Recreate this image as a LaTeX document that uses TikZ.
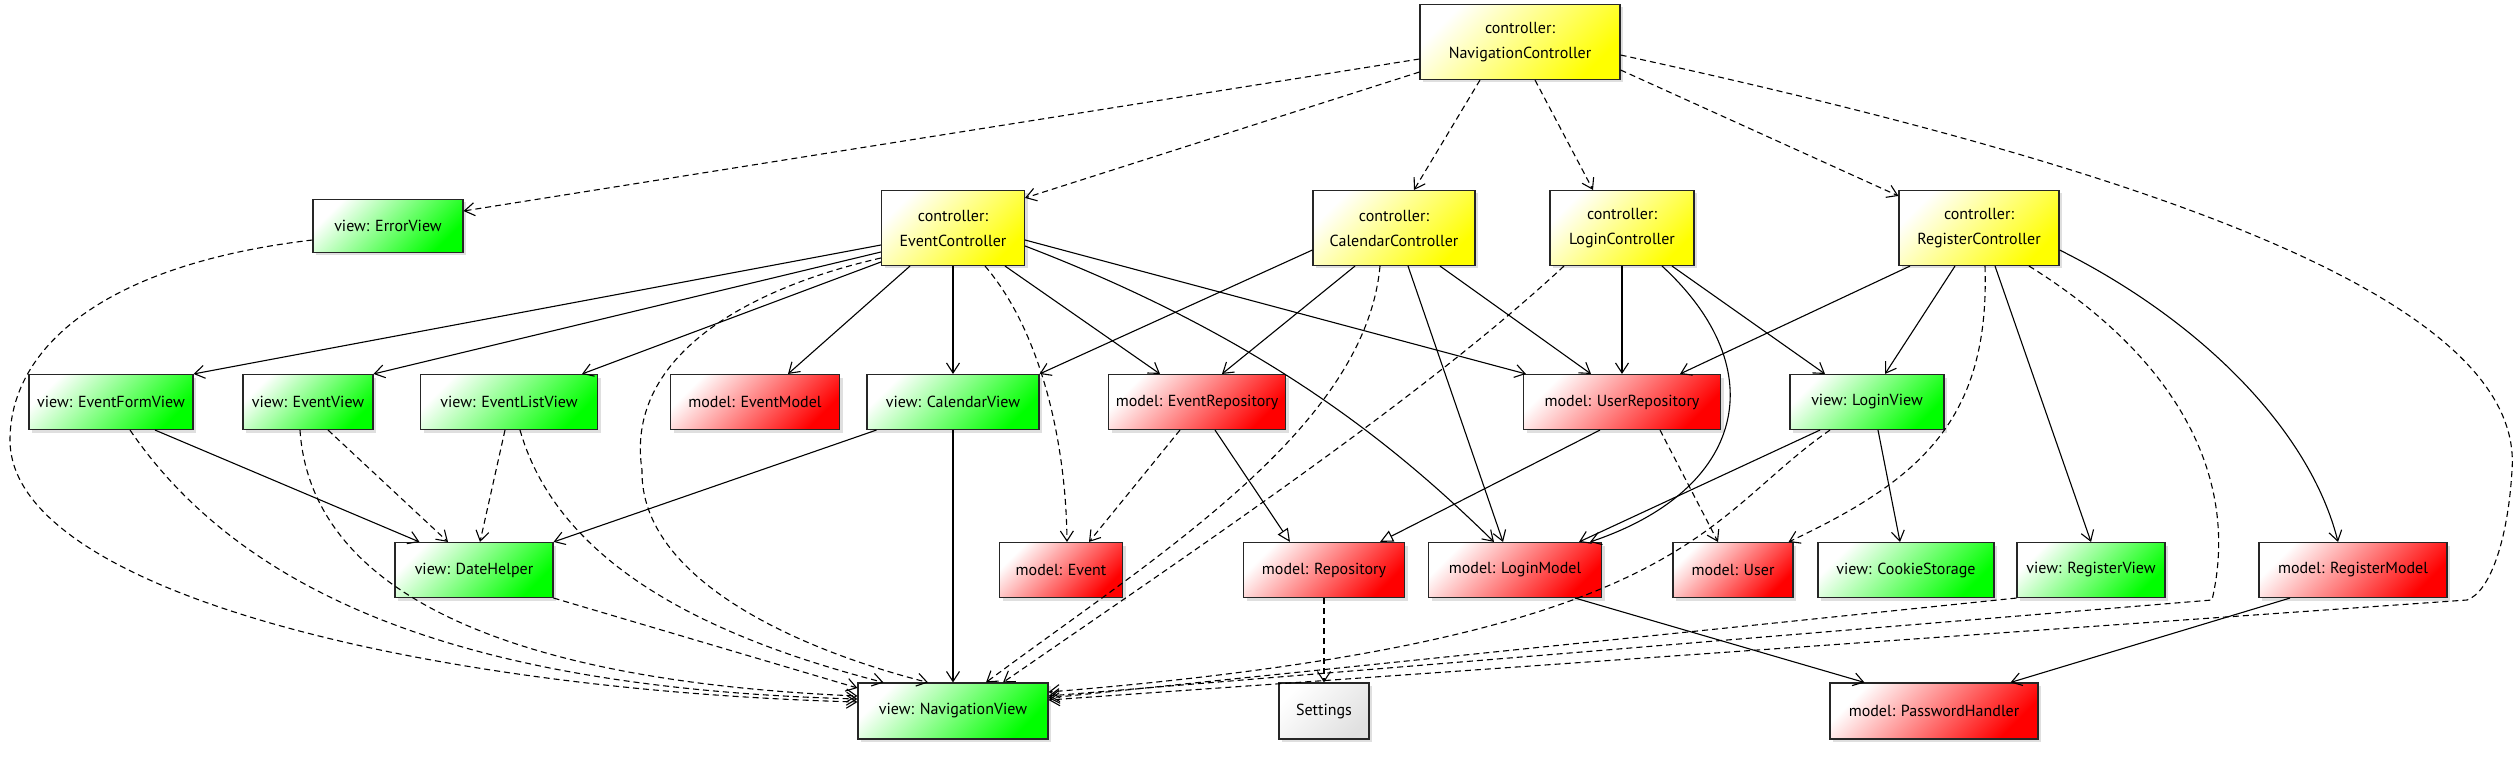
\documentclass[tikz,border=0pt]{standalone}
\usepackage{fontspec}
\setmainfont{PT Sans}
\usetikzlibrary{calc}
\usetikzlibrary{positioning}
\usetikzlibrary{arrows.meta, shadows}
\tikzstyle{uses} = [line width=1.1pt, dash pattern=on 6pt off 4pt, -{Straight Barb[length=10pt,width=13pt]}]
\tikzstyle{calls} = [line width=1.1pt, -{Straight Barb[length=10pt,width=13pt]}]
\tikzstyle{extends} = [line width=1.1pt, -{Triangle[open,length=13pt,width=12pt,fill=white]}]

\begin{document}
\begin{tikzpicture}[x=1pt, y=-1pt,
    umlbox/.style={rectangle, draw=black!85, line width=1.1pt, minimum height=55pt, inner sep=2pt,
        font=\fontsize{16}{25}\selectfont,
        drop shadow={opacity=0.25, shadow xshift=3pt, shadow yshift=-3pt}},
    ctrlnode/.style={umlbox, minimum height=75pt, align=center, left color=white, right color=yellow, shading angle=45},
    viewnode/.style={umlbox, left color=white, right color=green, shading angle=45},
    modelnode/.style={umlbox, left color=white, right color=red, shading angle=45},
    confnode/.style={umlbox, left color=white, right color=black!12, shading angle=45}
]
    \useasboundingbox (0,0) rectangle (2520,770);

    % controllers
    \node[ctrlnode, minimum width=200pt] (navctrl) at (1520,42) {controller:\\NavigationController};
    \node[viewnode, minimum width=150pt, minimum height=53pt] (errorview) at (388,226) {view: ErrorView};
    \node[ctrlnode, minimum width=143pt] (evctrl) at (953,228) {controller:\\EventController};
    \node[ctrlnode, minimum width=162pt] (calctrl) at (1394,228) {controller:\\CalendarController};
    \node[ctrlnode, minimum width=144pt] (loginctrl) at (1622,228) {controller:\\LoginController};
    \node[ctrlnode, minimum width=160pt] (regctrl) at (1979,228) {controller:\\RegisterController};

    \node[viewnode, minimum width=164pt] (efview) at (111,402) {view: EventFormView};
    \node[viewnode, minimum width=130pt] (eview) at (308,402) {view: EventView};
    \node[viewnode, minimum width=177pt] (elview) at (509,402) {view: EventListView};
    \node[modelnode, minimum width=169pt] (evmodel) at (755,402) {model: EventModel};
    \node[viewnode, minimum width=172pt] (calview) at (953,402) {view: CalendarView};
    \node[modelnode, minimum width=177pt] (evrepo) at (1197,402) {model: EventRepository};
    \node[modelnode, minimum width=197pt] (userrepo) at (1622,402) {model: UserRepository};
    \node[viewnode, minimum width=154pt] (loginview) at (1867,402) {view: LoginView};

    \node[viewnode, minimum width=158pt] (datehelper) at (474,570) {view: DateHelper};
    \node[modelnode, minimum width=123pt] (event) at (1061,570) {model: Event};
    \node[modelnode, minimum width=161pt] (repo) at (1324,570) {model: Repository};
    \node[modelnode, minimum width=173pt] (loginmodel) at (1515,570) {model: LoginModel};
    \node[modelnode, minimum width=120pt] (user) at (1733,570) {model: User};
    \node[viewnode, minimum width=176pt] (cookie) at (1906,570) {view: CookieStorage};
    \node[viewnode, minimum width=148pt] (regview) at (2091,570) {view: RegisterView};
    \node[modelnode, minimum width=188pt] (regmodel) at (2353,570) {model: RegisterModel};

    \node[viewnode, minimum width=190pt, minimum height=56pt] (navview) at (953,711) {view: NavigationView};
    \node[confnode, minimum width=90pt, minimum height=56pt] (settings) at (1324,711) {Settings};
    \node[modelnode, minimum width=208pt, minimum height=56pt] (pwhandler) at (1934,711) {model: PasswordHandler};

    % NavigationController
    \draw[uses] ([yshift=-17pt]navctrl.west) -- ([yshift=15pt]errorview.east);
    \draw[uses] ([yshift=-30pt]navctrl.west) -- ([yshift=-8pt]evctrl.north east);
    \draw[uses] ([xshift=-40pt]navctrl.south) -- ([xshift=20pt]calctrl.north);
    \draw[uses] ([xshift=15pt]navctrl.south) -- ([xshift=-29pt]loginctrl.north);
    \draw[uses] ([yshift=-28pt]navctrl.east) -- ([yshift=-6pt]regctrl.north west);
    \draw[uses] ([yshift=-13pt]navctrl.east) .. controls (2150,170) and (2525,300) .. (2512,470)
        .. controls (2508,540) and (2490,592) .. (2467,600) -- ([yshift=11pt]navview.east);

    % EventController
    \draw[calls] ([yshift=-17pt]evctrl.west) -- (efview.north east);
    \draw[calls] ([yshift=-24pt]evctrl.west) -- (eview.north east);
    \draw[calls] ([yshift=-34pt]evctrl.west) -- ([xshift=-16pt]elview.north east);
    \draw[calls] ([xshift=-43pt]evctrl.south) -- ([xshift=33pt]evmodel.north);
    \draw[calls] (evctrl) -- (calview);
    \draw[calls] ([xshift=52pt]evctrl.south) -- ([xshift=-37pt]evrepo.north);
    \draw[calls] ([yshift=-18pt]evctrl.east) .. controls (1270,340) and (1400,450) .. ([xshift=-21pt]loginmodel.north);
    \draw[calls] ([yshift=-12pt]evctrl.east) -- ([xshift=3pt]userrepo.north west);
    \draw[uses] ([xshift=32pt]evctrl.south) .. controls (1040,330) and (1066,440) .. ([xshift=6pt]event.north);
    \draw[uses] ([yshift=-30pt]evctrl.west) .. controls (740,290) and (625,360) .. (642,470)
        .. controls (640,580) and (800,650) .. ([xshift=-25pt]navview.north);

    % CalendarController
    \draw[calls] ([yshift=-22pt]calctrl.west) -- (calview.north east);
    \draw[calls] ([xshift=-39pt]calctrl.south) -- ([xshift=25pt]evrepo.north);
    \draw[calls] ([xshift=46pt]calctrl.south) -- ([xshift=-31pt]userrepo.north);
    \draw[calls] ([xshift=14pt]calctrl.south) -- ([xshift=-12pt]loginmodel.north);
    \draw[uses] ([xshift=-14pt]calctrl.south) .. controls (1365,430) and (1150,560) .. ([xshift=33pt]navview.north);

    % LoginController
    \draw[uses] ([xshift=-58pt]loginctrl.south) .. controls (1420,400) and (1180,560) .. ([xshift=50pt]navview.north);
    \draw[calls] (loginctrl) -- (userrepo);
    \draw[calls] ([xshift=50pt]loginctrl.south) -- ([xshift=-42pt]loginview.north);
    \draw[calls] ([xshift=40pt]loginctrl.south) .. controls (1775,370) and (1745,490) .. ([xshift=75pt]loginmodel.north);

    % RegisterController
    \draw[calls] ([xshift=-69pt]regctrl.south) -- ([xshift=58pt]userrepo.north);
    \draw[calls] ([xshift=-24pt]regctrl.south) -- ([xshift=18pt]loginview.north);
    \draw[uses] ([xshift=6pt]regctrl.south) .. controls (1990,420) and (1920,480) .. ([xshift=-5pt]user.north east);
    \draw[calls] ([xshift=16pt]regctrl.south) -- (regview.north);
    \draw[calls] ([yshift=-22pt]regctrl.east) .. controls (2200,320) and (2310,430) .. ([xshift=-15pt]regmodel.north);
    \draw[uses] ([xshift=50pt]regctrl.south) .. controls (2180,360) and (2240,480) .. (2212,600) -- ([yshift=15pt]navview.east);

    % views
    \draw[uses] ([yshift=-14pt]errorview.west) .. controls (100,265) and (10,350) .. (10,440)
        .. controls (10,590) and (420,690) .. ([yshift=9pt]navview.west);
    \draw[calls] ([xshift=44pt]efview.south) -- ([xshift=25pt]datehelper.north west);
    \draw[uses] ([xshift=19pt]efview.south) .. controls (260,620) and (520,690) .. ([yshift=12pt]navview.west);
    \draw[uses] ([xshift=20pt]eview.south) -- ([xshift=-26pt]datehelper.north);
    \draw[uses] ([xshift=-8pt]eview.south) .. controls (310,580) and (480,680) .. ([yshift=15pt]navview.west);
    \draw[uses] ([xshift=-4pt]elview.south) -- ([xshift=6pt]datehelper.north);
    \draw[uses] ([xshift=11pt]elview.south) .. controls (560,570) and (720,640) .. ([xshift=26pt]navview.north west);
    \draw[calls] ([xshift=10pt]calview.south west) -- (datehelper.north east);
    \draw[calls] (calview) -- (navview);
    \draw[calls] ([xshift=-47pt]loginview.south) -- ([xshift=64pt]loginmodel.north);
    \draw[uses] ([xshift=-37pt]loginview.south) .. controls (1700,520) and (1690,640) .. ([yshift=19pt]navview.east);
    \draw[calls] ([xshift=11pt]loginview.south) -- ([xshift=-6pt]cookie.north);
    \draw[uses] (datehelper.south east) -- ([yshift=23pt]navview.west);
    \draw[uses] (regview.south west) -- ([yshift=13pt]navview.east);

    % models
    \draw[uses] ([xshift=-17pt]evrepo.south) -- ([xshift=28pt]event.north);
    \draw[extends] ([xshift=18pt]evrepo.south) -- ([xshift=-34pt]repo.north);
    \draw[extends] ([xshift=-22pt]userrepo.south) -- ([xshift=56pt]repo.north);
    \draw[uses] ([xshift=38pt]userrepo.south) -- ([xshift=-15pt]user.north);
    \draw[uses] (repo) -- (settings);
    \draw[calls] ([xshift=60pt]loginmodel.south) -- ([xshift=35pt]pwhandler.north west);
    \draw[calls] ([xshift=-63pt]regmodel.south) -- ([xshift=-28pt]pwhandler.north east);
\end{tikzpicture}
\end{document}
